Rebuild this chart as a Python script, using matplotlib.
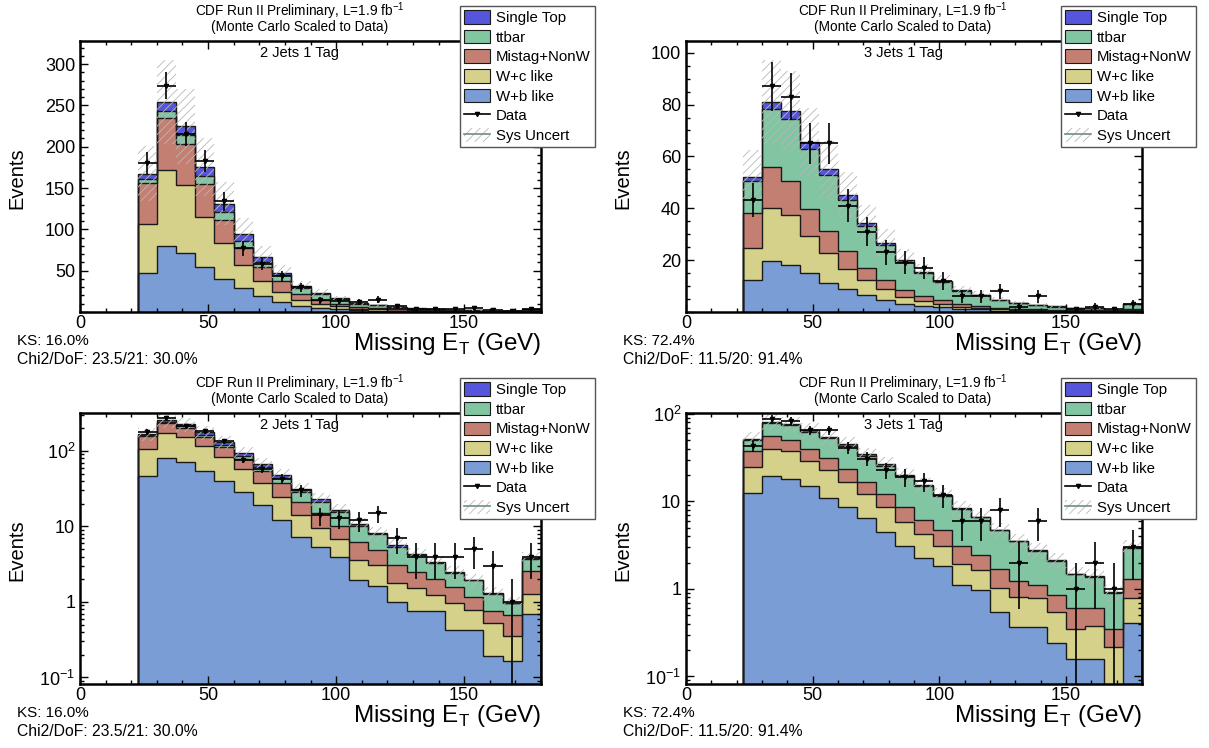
import numpy as np
import matplotlib.pyplot as plt
from matplotlib.patches import Patch
from matplotlib.lines import Line2D
from matplotlib.ticker import MultipleLocator, FixedLocator, FixedFormatter, LogLocator, NullFormatter

plt.rcParams['font.family'] = ['Liberation Sans', 'DejaVu Sans']
plt.rcParams['hatch.linewidth'] = 0.6

# Missing ET bins (GeV)
edges = [22.5, 30, 37.5, 45, 52.5, 60, 67.5, 75, 82.5, 90, 97.5, 105,
         112.5, 120, 127.5, 135, 142.5, 150, 157.5, 165, 172.5, 180]

# 2 jets 1 tag
wb2 = [47.2, 79.8, 71.4, 54.4, 40.0, 28.5, 19.0, 12.2, 7.3, 5.4, 3.9, 1.95, 1.63, 1.0, 0.77, 0.75, 0.43, 0.43, 0.195, 0.164, 0.69]
wc2 = [59.7, 92.2, 82.2, 60.6, 43.9, 28.5, 18.3, 12.6, 6.9, 4.0, 2.9, 1.65, 1.47, 0.77, 0.74, 0.48, 0.54, 0.35, 0.325, 0.186, 0.59]
mis2 = [49.0, 62.7, 49.4, 39.8, 27.8, 21.0, 17.7, 12.4, 7.1, 5.5, 3.3, 2.7, 1.8, 1.33, 1.0, 0.76, 0.6, 0.39, 0.25, 0.33, 1.27]
tt2 = [4.9, 8.0, 11.6, 9.7, 9.3, 8.4, 6.0, 7.0, 7.6, 6.4, 5.3, 3.8, 3.0, 2.3, 1.7, 1.3, 0.85, 0.76, 0.51, 0.28, 1.15]
st2 = [6.8, 11.3, 10.0, 11.3, 10.0, 8.2, 5.5, 3.6, 2.1, 1.6, 1.1, 0.7, 0.2, 0.2, 0.1, 0.1, 0.04, 0.02, 0.02, 0.02, 0.1]
data2 = [180, 274, 215, 183, 134, 77, 58, 43, 30, 14, 13, 12, 15, 7, 4, 4, 4, 5, 3, 1, 4]

# 3 jets 1 tag
wb3 = [12.4, 19.7, 18.2, 15.1, 11.1, 8.7, 6.4, 4.5, 3.1, 2.25, 1.81, 1.11, 0.97, 0.55, 0.37, 0.37, 0.24, 0.16, 0.157, 0.04, 0.41]
wc3 = [12.2, 20.3, 19.3, 14.3, 11.7, 7.9, 5.9, 4.2, 2.8, 2.05, 1.25, 0.83, 0.68, 0.47, 0.43, 0.41, 0.31, 0.19, 0.22, 0.18, 0.37]
mis3 = [13.5, 16.0, 13.0, 10.5, 8.3, 7.1, 4.6, 3.5, 2.7, 1.9, 1.64, 1.12, 0.8, 0.66, 0.44, 0.33, 0.3, 0.25, 0.23, 0.125, 0.51]
tt3 = [12.6, 22.2, 24.0, 23.1, 21.6, 19.5, 16.4, 13.5, 10.8, 8.8, 6.8, 5.1, 4.15, 3.0, 2.26, 1.6, 1.25, 0.87, 0.76, 0.55, 1.65]
st3 = [1.5, 2.9, 2.9, 2.6, 2.3, 1.8, 1.2, 1.0, 0.7, 0.45, 0.3, 0.2, 0.12, 0.1, 0.07, 0.05, 0.04, 0.03, 0.03, 0.02, 0.06]
data3 = [43, 87, 83, 65, 65, 41, 31, 23, 19, 17, 12, 6, 6, 8, 2, 6, 0, 1, 2, 1, 3]

labels = ['Single Top', 'ttbar', 'Mistag+NonW', 'W+c like', 'W+b like']
colors = ['#5656dc', '#82c5a2', '#c47f73', '#d5d18b', '#7b9dd5']
sys_frac = 0.2

W, H = 1209, 748
fig = plt.figure(figsize=(W / 100, H / 100), dpi=100)


def px_axes(x0, y0, x1, y1):
    return fig.add_axes([x0 / W, 1 - y1 / H, (x1 - x0) / W, (y1 - y0) / H])


def draw(ax, comps, data, log):
    e = np.array(edges)
    base = 1e-3 if log else 0
    # comps are ordered bottom -> top: W+b, W+c, Mistag, ttbar, single top
    cum = np.cumsum(np.array(comps), axis=0)
    cols = colors[::-1]
    for i in range(len(comps) - 1, -1, -1):
        ax.stairs(cum[i], e, baseline=base, fill=True, facecolor=cols[i],
                  edgecolor='none', zorder=1)
        ax.stairs(cum[i], e, baseline=base, color='#1a1a1a', lw=1.0, zorder=1.1)
    tot = cum[-1]
    ax.stairs(tot * (1 + sys_frac), e, baseline=tot * (1 - sys_frac), fill=True,
              facecolor='none', edgecolor='#b8b8b8', hatch='////', lw=0, zorder=1.5)
    d = np.array(data, dtype=float)
    c = 0.5 * (e[1:] + e[:-1])
    m = d > 0
    ax.errorbar(c[m], d[m], xerr=3.75, yerr=np.sqrt(d[m]), fmt='v', ms=3,
                color='k', elinewidth=1.2, capsize=0, zorder=3)
    ax.set_xlim(0, 180)
    ax.xaxis.set_major_locator(MultipleLocator(50))
    ax.xaxis.set_minor_locator(MultipleLocator(10))
    ax.tick_params(which='both', direction='in', top=True, right=True, labelsize=13)
    ax.tick_params(axis='x', pad=2.5)
    ax.tick_params(which='major', length=6, width=1)
    ax.tick_params(which='minor', length=3, width=1)
    for s in ax.spines.values():
        s.set_linewidth(1.8)


panels = [
    # x0, y0, x1, y1, comps, data, log, tag, ks, chi, ylim
    (80, 41, 541, 312, [wb2, wc2, mis2, tt2, st2], data2, False, '2 Jets 1 Tag',
     'KS: 16.0%', 'Chi2/DoF: 23.5/21: 30.0%', (0, 328)),
    (686, 41, 1142, 312, [wb3, wc3, mis3, tt3, st3], data3, False, '3 Jets 1 Tag',
     'KS: 72.4%', 'Chi2/DoF: 11.5/20: 91.4%', (0, 104.5)),
    (80, 413, 541, 684, [wb2, wc2, mis2, tt2, st2], data2, True, '2 Jets 1 Tag',
     'KS: 16.0%', 'Chi2/DoF: 23.5/21: 30.0%', (0.082, 318)),
    (686, 413, 1142, 684, [wb3, wc3, mis3, tt3, st3], data3, True, '3 Jets 1 Tag',
     'KS: 72.4%', 'Chi2/DoF: 11.5/20: 91.4%', (0.082, 102.7)),
]

handles = [Patch(facecolor=c, edgecolor='#1a1a1a', lw=0.8) for c in colors]
handles.append(Line2D([0], [0], color='k', marker='v', ms=3, lw=1.2))
handles.append((Patch(facecolor='none', edgecolor='#b8b8b8', hatch='////', lw=0),
                Line2D([0], [0], color='#6f8f7c', lw=1.2)))
leg_labels = labels + ['Data', 'Sys Uncert']

for x0, y0, x1, y1, comps, data, log, tag, ks, chi, ylim in panels:
    ax = px_axes(x0, y0, x1, y1)
    draw(ax, comps, data, log)
    if log:
        ax.set_yscale('log')
        ax.set_ylim(*ylim)
        ax.yaxis.set_major_locator(FixedLocator([0.1, 1, 10, 100]))
        ax.yaxis.set_major_formatter(FixedFormatter(
            [r'$\mathregular{10^{-1}}$', '1', '10', r'$\mathregular{10^{2}}$']))
        ax.yaxis.set_minor_locator(LogLocator(base=10, subs=np.arange(2, 10)))
        ax.yaxis.set_minor_formatter(NullFormatter())
    else:
        ax.set_ylim(*ylim)
        if ylim[1] > 200:
            ax.yaxis.set_major_locator(MultipleLocator(50))
            ax.yaxis.set_minor_locator(MultipleLocator(10))
        else:
            ax.yaxis.set_major_locator(MultipleLocator(20))
            ax.yaxis.set_minor_locator(MultipleLocator(5))
        ax.yaxis.set_major_formatter(lambda v, p: '' if v == 0 else f'{v:g}')
    xc = (x0 + x1) / 2 - 11
    fig.text(xc / W, 1 - (y0 - 30) / H,
             r'CDF Run II Preliminary, L=1.9 fb$^{\mathregular{-1}}$',
             ha='center', va='center', fontsize=9.8)
    fig.text(xc / W, 1 - (y0 - 13.5) / H, '(Monte Carlo Scaled to Data)',
             ha='center', va='center', fontsize=9.8)
    fig.text(xc / W, 1 - (y0 + 12) / H, tag, ha='center', va='center', fontsize=10.5)
    fig.text((x0 - 63) / W, 1 - ((y0 + y1) / 2 + 2) / H, 'Events', rotation=90,
             ha='center', va='center', fontsize=14.5)
    fig.text(x1 / W, 1 - (y1 + 38) / H, r'Missing E$_{\mathregular{T}}$ (GeV)',
             ha='right', va='baseline', fontsize=17.5)
    fig.text((x0 - 63) / W, 1 - (y1 + 29) / H, ks, ha='left', va='center', fontsize=11)
    fig.text((x0 - 63) / W, 1 - (y1 + 47) / H, chi, ha='left', va='center', fontsize=11.3)
    ax.legend(handles, leg_labels, loc='upper left',
              bbox_to_anchor=((x1 - 81) / W, 1 - (y0 - 35) / H),
              bbox_transform=fig.transFigure, fancybox=False, framealpha=1,
              edgecolor='#555555', fontsize=10.8, handlelength=1.7, handleheight=1.0,
              handletextpad=0.4, labelspacing=0.32, borderpad=0.28,
              borderaxespad=0)

fig.savefig('out.png', dpi=100)
